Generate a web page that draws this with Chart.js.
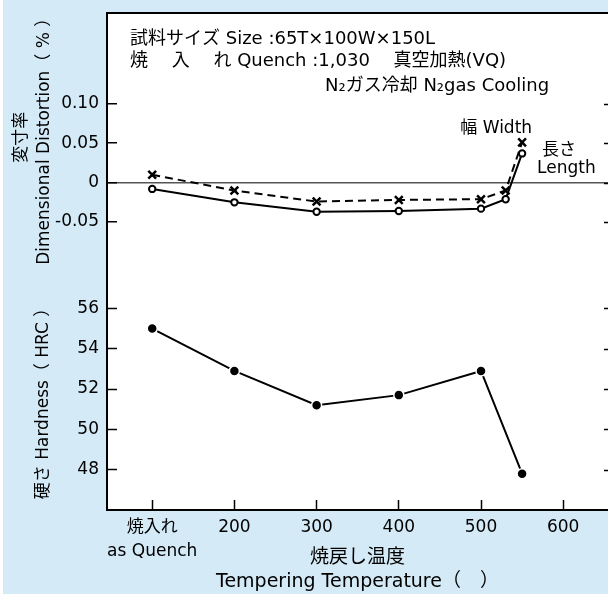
<!DOCTYPE html>
<html><head><meta charset="utf-8">
<script src="https://cdn.jsdelivr.net/npm/chart.js@4"></script>
<style>html,body{margin:0;padding:0;background:#fff;overflow:hidden}canvas{display:block}</style>
</head><body><canvas id="c" width="608" height="594"></canvas>
<script>
// ---- data ----
const xTickValues = [100, 200, 300, 400, 500, 600];
const xTickLabels = [['焼入れ', 'as Quench'], '200', '300', '400', '500', '600'];
const distTemps = [100, 200, 300, 400, 500, 530, 550];
const lengthDistortion = [-0.008, -0.025, -0.037, -0.036, -0.033, -0.021, 0.037];
const widthDistortion = [0.010, -0.010, -0.024, -0.022, -0.021, -0.010, 0.051];
const hardTemps = [100, 200, 300, 400, 500, 550];
const hardness = [55.0, 52.9, 51.2, 51.7, 52.9, 47.8];
const distTickValues = [-0.05, 0, 0.05, 0.10];
const distTickLabels = ['-0.05', '0', '0.05', '0.10'];
const hardTickValues = [48, 50, 52, 54, 56];
const hardTickLabels = ['48', '50', '52', '54', '56'];

const FONT = "'DejaVu Sans','Noto Sans CJK JP',sans-serif";
Chart.defaults.font.family = FONT;
Chart.defaults.font.size = 17;
Chart.defaults.color = '#000';

const pts = (xs, ys) => xs.map((x, i) => ({x: x, y: ys[i]}));

const framePlugin = {
  id: 'frame',
  beforeDraw(chart) {
    const {ctx, chartArea: a} = chart;
    ctx.save();
    ctx.fillStyle = '#ffffff';
    ctx.fillRect(0, 0, chart.width, chart.height);
    ctx.fillStyle = '#d4eaf7';
    ctx.fillRect(3, 0, chart.width - 3, chart.height);
    ctx.fillStyle = '#ffffff';
    ctx.fillRect(a.left, a.top, a.right - a.left, a.bottom - a.top);
    ctx.restore();
  },
  afterDraw(chart) {
    const {ctx, chartArea: a, scales} = chart;
    ctx.save();
    // top frame
    ctx.strokeStyle = '#000';
    ctx.lineWidth = 2;
    ctx.beginPath();
    ctx.moveTo(a.left - 1, a.top);
    ctx.lineTo(a.right, a.top);
    ctx.stroke();
    // mirrored ticks on the right edge
    ctx.lineWidth = 1.5;
    [['yd', distTickValues], ['yh', hardTickValues]].forEach(([id, vals]) => {
      const s = scales[id];
      vals.forEach(v => {
        const y = Math.round(s.getPixelForValue(v)) + 0.5;
        ctx.beginPath();
        ctx.moveTo(a.right - 4, y);
        ctx.lineTo(a.right, y);
        ctx.stroke();
      });
    });
    // annotations
    ctx.fillStyle = '#000';
    ctx.textBaseline = 'middle';
    ctx.textAlign = 'left';
    const L = a.left;
    ctx.font = '18px ' + FONT;
    ctx.fillText('試料サイズ Size :65T×100W×150L', L + 23, a.top + 26);
    ctx.fillText('焼　 入　 れ Quench :1,030　 真空加熱(VQ)', L + 23, a.top + 48);
    ctx.fillText('N₂ガス冷却 N₂gas Cooling', L + 218, a.top + 73);
    ctx.font = '17px ' + FONT;
    const sx = scales.x, sd = scales.yd;
    const wx = sx.getPixelForValue(distTemps[6]);
    const wy = sd.getPixelForValue(widthDistortion[6]);
    ctx.textAlign = 'right';
    ctx.fillText('幅 Width', wx + 10, wy - 14);
    const lx = sx.getPixelForValue(distTemps[6]);
    const ly = sd.getPixelForValue(lengthDistortion[6]);
    ctx.textAlign = 'left';
    ctx.fillText('長さ', lx + 20, ly - 3);
    ctx.fillText('Length', lx + 15, ly + 15);
    ctx.restore();
  }
};

new Chart(document.getElementById('c'), {
  type: 'line',
  data: {
    datasets: [
      {
        label: '長さ Length', yAxisID: 'yd',
        data: pts(distTemps, lengthDistortion),
        borderColor: '#000', borderWidth: 2,
        pointStyle: 'circle', pointRadius: 3.2, pointBorderWidth: 2,
        pointBackgroundColor: '#fff', pointBorderColor: '#000'
      },
      {
        label: '幅 Width', yAxisID: 'yd',
        data: pts(distTemps, widthDistortion),
        borderColor: '#000', borderWidth: 2, borderDash: [8, 5],
        pointStyle: 'crossRot', pointRadius: 5.5, pointBorderWidth: 2.5,
        pointBorderColor: '#000'
      },
      {
        label: '硬さ Hardness', yAxisID: 'yh',
        data: pts(hardTemps, hardness),
        borderColor: '#000', borderWidth: 2,
        pointStyle: 'circle', pointRadius: 5, pointBorderWidth: 1.5,
        pointBackgroundColor: '#000', pointBorderColor: '#fff'
      }
    ]
  },
  options: {
    responsive: false, animation: false, devicePixelRatio: 1,
    layout: {autoPadding: false, padding: {top: 13, right: 0, bottom: 0, left: 0}},
    plugins: {legend: {display: false}, tooltip: {enabled: false}},
    scales: {
      x: {
        type: 'linear', position: 'bottom', min: 45, max: 654.5,
        afterBuildTicks: s => { s.ticks = xTickValues.map(v => ({value: v})); },
        afterFit: s => { s.height = 84; s.paddingLeft = 0; s.paddingRight = 0; },
        ticks: {callback: (v, i) => xTickLabels[i], color: '#000', padding: 16, maxRotation: 0, autoSkip: false,
                font: {size: 17, lineHeight: 1.38}},
        grid: {drawOnChartArea: false, tickLength: -10, tickColor: '#000', tickWidth: 1.5},
        border: {color: '#000', width: 2},
        title: {display: true, text: ['焼戻し温度', 'Tempering Temperature（　）'], color: '#000',
                font: {size: 19, lineHeight: 1.25}, padding: {top: 0, bottom: 0}}
      },
      yh: {
        type: 'linear', position: 'left', stack: 'y', stackWeight: 1, min: 46, max: 58.33,
        afterBuildTicks: s => { s.ticks = hardTickValues.map(v => ({value: v})); },
        afterFit: s => { s.width = 107; s.paddingTop = 0; s.paddingBottom = 0; },
        ticks: {callback: (v, i) => hardTickLabels[i], color: '#000', padding: 18},
        grid: {drawOnChartArea: false, tickLength: -10, tickColor: '#000', tickWidth: 1.5},
        border: {color: '#000', width: 2},
        title: {display: true, align: 'start', text: '  硬さ Hardness（ HRC ）', color: '#000',
                font: {size: 17, lineHeight: 1.35}, padding: {top: 32, bottom: 0}}
      },
      yd: {
        type: 'linear', position: 'left', stack: 'y', stackWeight: 1, min: -0.1, max: 0.215,
        afterBuildTicks: s => { s.ticks = distTickValues.map(v => ({value: v})); },
        afterFit: s => { s.width = 107; s.paddingTop = 0; s.paddingBottom = 0; },
        ticks: {callback: (v, i) => distTickLabels[i], color: '#000', padding: 18},
        grid: {drawOnChartArea: true, tickLength: -10, tickColor: '#000', tickWidth: 1.5, lineWidth: 1.5,
               color: c => (c.tick && c.tick.value === 0) ? '#555555' : 'rgba(0,0,0,0)'},
        border: {color: '#000', width: 2},
        title: {display: true, text: ['変寸率', 'Dimensional Distortion（ % ）'], color: '#000',
                font: {size: 17, lineHeight: 1.35}, padding: {top: 10, bottom: 0}}
      }
    }
  },
  plugins: [framePlugin]
});
</script>
</body></html>
